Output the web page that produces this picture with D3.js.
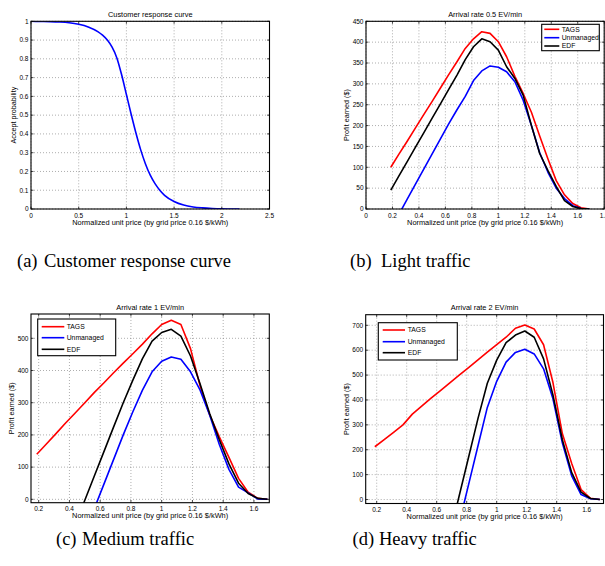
<!DOCTYPE html>
<html>
<head>
<meta charset="utf-8">
<script src="https://cdn.jsdelivr.net/npm/d3@7"></script>
<style>
  body { margin: 0; background: #fff; }
  svg text { font-family: "Liberation Sans", Arial, sans-serif; fill: #000; }
  .caption { font-family: "Liberation Serif", "Times New Roman", serif; }
</style>
</head>
<body>
<svg id="fig" width="605" height="566"></svg>
<script>
// (a) customer response curve
var respPrice = [0, 0.1, 0.2, 0.3, 0.4, 0.5, 0.6, 0.7, 0.75, 0.8, 0.85, 0.9, 0.95, 1.0, 1.05, 1.1, 1.15, 1.2, 1.25, 1.3, 1.35, 1.4, 1.5, 1.6, 1.7, 1.8, 1.9, 2.0, 2.1, 2.185];
var respAccept = [1.0, 0.999, 0.998, 0.996, 0.992, 0.984, 0.97, 0.945, 0.926, 0.9, 0.862, 0.805, 0.715, 0.61, 0.505, 0.405, 0.315, 0.24, 0.18, 0.135, 0.1, 0.073, 0.04, 0.021, 0.011, 0.006, 0.003, 0.001, 0.0, 0.0];

// normalized unit price for the traffic plots
var price = [0.1875, 0.25, 0.3125, 0.375, 0.4375, 0.5, 0.5625, 0.625, 0.6875, 0.75, 0.8125, 0.875, 0.9375,
             1.0, 1.0625, 1.125, 1.1875, 1.25, 1.3125, 1.375, 1.4375, 1.5, 1.5625, 1.625, 1.6875];

// (b) light traffic, arrival 0.5 EV/min
var lightTAGS = [100, 132, 163, 195, 227, 258, 290, 322, 353, 385, 408, 425, 421, 401, 365, 318, 277, 232, 175, 120, 68, 34, 13, 3, 0];
var lightUnmanaged = [-48, -12, 24, 60, 96, 132, 168, 204, 238, 270, 308, 331, 343, 340, 329, 305, 261, 200, 135, 88, 50, 25, 8, 1, 0];
var lightEDF = [45, 80, 114, 149, 183, 218, 252, 287, 321, 358, 389, 408, 401, 381, 341, 313, 273, 200, 133, 92, 54, 20, 6, 1, 0];

// (c) medium traffic, arrival 1 EV/min
var mediumTAGS = [140, 172, 204, 237, 268, 300, 332, 362, 393, 423, 452, 482, 514, 543, 556, 543, 468, 352, 262, 194, 130, 65, 22, 3, 0];
var mediumUnmanaged = [null, null, null, null, null, null, -28, 48, 124, 200, 272, 339, 396, 429, 442, 435, 396, 339, 261, 170, 93, 38, 20, 1, 0];
var mediumEDF = [null, null, null, null, -79, -3, 73, 149, 225, 300, 370, 437, 491, 518, 528, 507, 445, 358, 266, 185, 110, 50, 18, 3, 0];

// (d) heavy traffic, arrival 2 EV/min
var heavyTAGS = [212, 241, 270, 300, 343, 375, 407, 438, 469, 500, 530, 561, 592, 622, 652, 688, 701, 685, 622, 470, 265, 145, 40, 5, 0];
var heavyUnmanaged = [null, null, null, null, null, null, null, null, null, -95, 60, 215, 370, 475, 552, 591, 604, 585, 525, 405, 228, 95, 20, 3, 0];
var heavyEDF = [null, null, null, null, null, null, null, null, -140, 15, 170, 325, 467, 560, 630, 661, 677, 652, 565, 420, 240, 108, 30, 4, 0];

var seriesNames = ["TAGS", "Unmanaged", "EDF"];
var seriesColors = ["#ff0000", "#0000ff", "#000000"];

var xLabel = "Normalized unit price (by grid price 0.16 $/kWh)";
var priceTicks = [0.2, 0.4, 0.6, 0.8, 1, 1.2, 1.4, 1.6];

var svg = d3.select("#fig");
svg.append("rect").attr("width", 605).attr("height", 566).attr("fill", "#fff");

function fmt(v) { return String(+v.toFixed(2)); }

function drawPanel(p) {
    var x = d3.scaleLinear().domain(p.xDomain).range([p.left, p.right]);
    var y = d3.scaleLinear().domain(p.yDomain).range([p.bottom, p.top]);
    var g = svg.append("g");

    g.append("clipPath").attr("id", "clip-" + p.id)
        .append("rect")
        .attr("x", p.left).attr("y", p.top)
        .attr("width", p.right - p.left).attr("height", p.bottom - p.top);

    // dotted grid
    g.selectAll(".gx").data(p.xTicks).enter().append("line")
        .attr("x1", d => x(d)).attr("x2", d => x(d))
        .attr("y1", p.top).attr("y2", p.bottom)
        .attr("stroke", "#777").attr("stroke-width", 0.6).attr("stroke-dasharray", "1,2");
    g.selectAll(".gy").data(p.yTicks).enter().append("line")
        .attr("y1", d => y(d)).attr("y2", d => y(d))
        .attr("x1", p.left).attr("x2", p.right)
        .attr("stroke", "#777").attr("stroke-width", 0.6).attr("stroke-dasharray", "1,2");

    // curves
    var line = d3.line()
        .defined(d => d[1] != null)
        .x(d => x(d[0])).y(d => y(d[1]));
    if (p.smooth) line.curve(d3.curveMonotoneX);
    p.series.forEach(function (s) {
        var pts = s.x.map((v, i) => [v, s.y[i]]);
        g.append("path")
            .attr("d", line(pts))
            .attr("clip-path", "url(#clip-" + p.id + ")")
            .attr("fill", "none").attr("stroke", s.color)
            .attr("stroke-width", 1.6).attr("stroke-linejoin", "round");
    });

    // inward ticks on all four sides
    var tl = 2.5;
    p.xTicks.forEach(function (t) {
        g.append("line").attr("x1", x(t)).attr("x2", x(t)).attr("y1", p.bottom).attr("y2", p.bottom - tl)
            .attr("stroke", "#000").attr("stroke-width", 0.7);
        g.append("line").attr("x1", x(t)).attr("x2", x(t)).attr("y1", p.top).attr("y2", p.top + tl)
            .attr("stroke", "#000").attr("stroke-width", 0.7);
    });
    p.yTicks.forEach(function (t) {
        g.append("line").attr("y1", y(t)).attr("y2", y(t)).attr("x1", p.left).attr("x2", p.left + tl)
            .attr("stroke", "#000").attr("stroke-width", 0.7);
        g.append("line").attr("y1", y(t)).attr("y2", y(t)).attr("x1", p.right).attr("x2", p.right - tl)
            .attr("stroke", "#000").attr("stroke-width", 0.7);
    });

    // box
    g.append("rect")
        .attr("x", p.left).attr("y", p.top)
        .attr("width", p.right - p.left).attr("height", p.bottom - p.top)
        .attr("fill", "none").attr("stroke", "#000").attr("stroke-width", 1.1);

    // tick labels
    g.selectAll(".tx").data(p.xTicks).enter().append("text")
        .attr("x", d => x(d)).attr("y", p.bottom + 8.5)
        .attr("text-anchor", "middle").attr("font-size", "6.5px")
        .text(fmt);
    g.selectAll(".ty").data(p.yTicks).enter().append("text")
        .attr("x", p.left - 2.5).attr("y", d => y(d) + 2.3)
        .attr("text-anchor", "end").attr("font-size", "6.5px")
        .text(fmt);

    // title and axis labels
    g.append("text")
        .attr("x", (p.left + p.right) / 2).attr("y", p.top - 4.5)
        .attr("text-anchor", "middle").attr("font-size", "7.4px")
        .text(p.title);
    g.append("text")
        .attr("x", (p.left + p.right) / 2).attr("y", p.bottom + 15.5)
        .attr("text-anchor", "middle").attr("font-size", "7.4px")
        .text(xLabel);
    g.append("text")
        .attr("transform", "translate(" + p.ylabelX + "," + ((p.top + p.bottom) / 2) + ") rotate(-90)")
        .attr("text-anchor", "middle").attr("font-size", "7.2px")
        .text(p.ylabel);

    // legend
    if (p.legend) {
        var L = p.legend;
        g.append("rect")
            .attr("x", L.x0).attr("y", L.y0)
            .attr("width", L.x1 - L.x0).attr("height", L.y1 - L.y0)
            .attr("fill", "#fff").attr("stroke", "#000").attr("stroke-width", 1.1);
        seriesNames.forEach(function (name, i) {
            var yy = L.rows[i];
            g.append("line")
                .attr("x1", L.lx0).attr("x2", L.lx1).attr("y1", yy).attr("y2", yy)
                .attr("stroke", seriesColors[i]).attr("stroke-width", 1.6);
            g.append("text")
                .attr("x", L.tx).attr("y", yy + 2.4)
                .attr("font-size", "6.8px")
                .text(name);
        });
    }

    // caption: label and text placed separately (LaTeX subcaption spacing)
    var cap = svg.append("g").attr("class", "caption-g");
    cap.append("text").attr("class", "caption")
        .attr("x", p.cap.lx).attr("y", p.cap.y).attr("font-size", "18.5px")
        .text(p.cap.label);
    cap.append("text").attr("class", "caption")
        .attr("x", p.cap.tx).attr("y", p.cap.y).attr("font-size", "18.5px")
        .text(p.cap.text);
}

function traffic(a, b, c) {
    return [
        { x: price, y: a, color: seriesColors[0] },
        { x: price, y: b, color: seriesColors[1] },
        { x: price, y: c, color: seriesColors[2] }
    ];
}

drawPanel({
    id: "a", left: 31, right: 269.5, top: 21.3, bottom: 209,
    xDomain: [0, 2.5], yDomain: [0, 1],
    xTicks: [0, 0.5, 1, 1.5, 2, 2.5],
    yTicks: [0, 0.1, 0.2, 0.3, 0.4, 0.5, 0.6, 0.7, 0.8, 0.9, 1],
    smooth: true,
    title: "Customer response curve", ylabel: "Accept probability", ylabelX: 15.5,
    series: [{ x: respPrice, y: respAccept, color: "#0000ff" }],
    cap: { label: "(a)", text: "Customer response curve", lx: 17, tx: 44, y: 266.5 }
});

drawPanel({
    id: "b", left: 366, right: 604.2, top: 21.3, bottom: 209,
    xDomain: [0, 1.8], yDomain: [0, 450],
    xTicks: [0, 0.2, 0.4, 0.6, 0.8, 1, 1.2, 1.4, 1.6, 1.8],
    yTicks: [0, 50, 100, 150, 200, 250, 300, 350, 400, 450],
    title: "Arrival rate 0.5 EV/min", ylabel: "Profit earned ($)", ylabelX: 349,
    series: traffic(lightTAGS, lightUnmanaged, lightEDF),
    legend: { x0: 541.7, x1: 599.3, y0: 24.3, y1: 50.7, rows: [29.3, 37.7, 46], lx0: 544.3, lx1: 559.3, tx: 561.7 },
    cap: { label: "(b)", text: "Light traffic", lx: 350, tx: 381, y: 266.5 }
});

drawPanel({
    id: "c", left: 31, right: 269.3, top: 314, bottom: 502.7,
    xDomain: [0.15, 1.7], yDomain: [-10.5, 575.5],
    xTicks: priceTicks,
    yTicks: [0, 100, 200, 300, 400, 500],
    title: "Arrival rate 1 EV/min", ylabel: "Profit earned ($)", ylabelX: 14,
    series: traffic(mediumTAGS, mediumUnmanaged, mediumEDF),
    legend: { x0: 37.7, x1: 115.7, y0: 319, y1: 355.7, rows: [326.7, 337.7, 349.3], lx0: 41.7, lx1: 64.3, tx: 66.7 },
    cap: { label: "(c)", text: "Medium traffic", lx: 56, tx: 82, y: 545 }
});

drawPanel({
    id: "d", left: 365.7, right: 603.5, top: 314.7, bottom: 503.5,
    xDomain: [0.1267, 1.712], yDomain: [-16, 742.6],
    xTicks: priceTicks,
    yTicks: [0, 100, 200, 300, 400, 500, 600, 700],
    title: "Arrival rate 2 EV/min", ylabel: "Profit earned ($)", ylabelX: 349,
    series: traffic(heavyTAGS, heavyUnmanaged, heavyEDF),
    legend: { x0: 378.3, x1: 457.3, y0: 322.7, y1: 360, rows: [330, 341.7, 352.7], lx0: 382.7, lx1: 405, tx: 407.7 },
    cap: { label: "(d)", text: "Heavy traffic", lx: 352.5, tx: 379, y: 545 }
});
</script>
</body>
</html>
